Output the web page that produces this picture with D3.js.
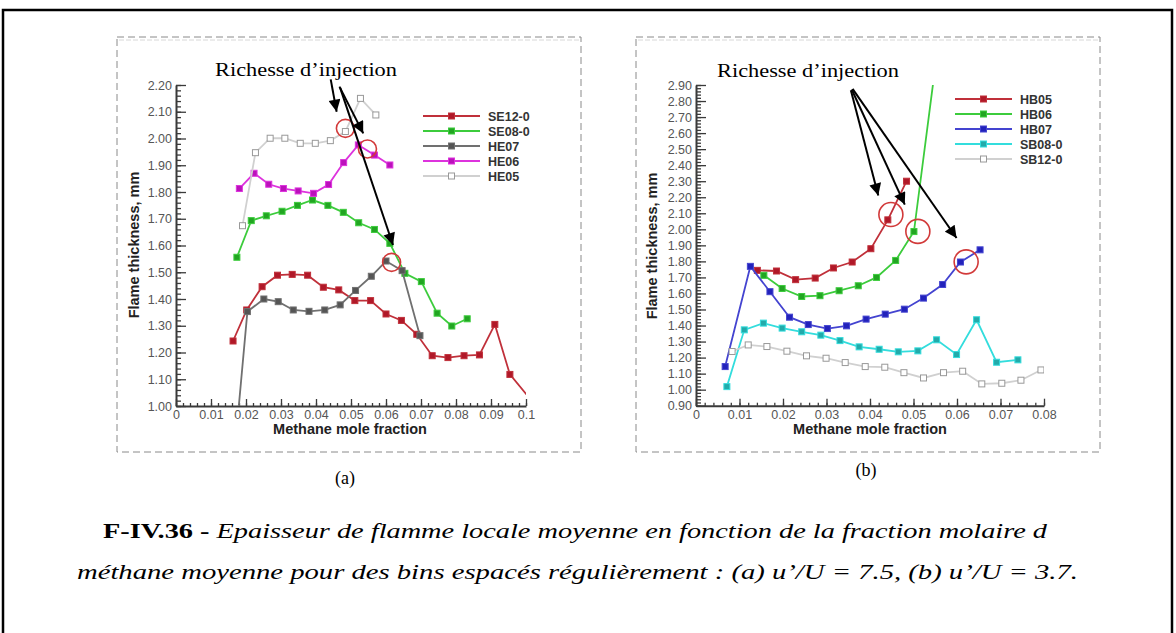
<!DOCTYPE html>
<html>
<head>
<meta charset="utf-8">
<script src="https://cdn.jsdelivr.net/npm/d3@7/dist/d3.min.js"></script>
<style>
body { margin: 0; background: #fff; }
</style>
</head>
<body>
<svg id="fig" width="1176" height="633"></svg>
<script>

// ---- data, panel (a) : u'/U = 7.5 ----
const leftNames = ["SE12-0", "SE08-0", "HE07", "HE06", "HE05"];
const se12_0 = [[0.0163,1.243],[0.0202,1.359],[0.0246,1.446],[0.0290,1.489],[0.0332,1.492],[0.0376,1.489],
    [0.0421,1.444],[0.0465,1.434],[0.0511,1.394],[0.0556,1.394],[0.0600,1.344],[0.0644,1.320],[0.0688,1.268],
    [0.0732,1.188],[0.0777,1.181],[0.0823,1.188],[0.0867,1.191],[0.0911,1.305],[0.0954,1.118],[0.1016,1.02]];
const se08_0 = [[0.0174,1.556],[0.0215,1.693],[0.0258,1.711],[0.0303,1.728],[0.0347,1.750],[0.0390,1.770],
    [0.0434,1.750],[0.0478,1.724],[0.0522,1.685],[0.0567,1.660],[0.0611,1.608],[0.0654,1.496],[0.0701,1.465],
    [0.0746,1.347],[0.0788,1.299],[0.0832,1.326]];
const he07 = [[0.0176,0.95],[0.0204,1.353],[0.0251,1.400],[0.0292,1.390],[0.0335,1.359],[0.0380,1.354],
    [0.0425,1.359],[0.0469,1.378],[0.0513,1.432],[0.0558,1.485],[0.0600,1.542],[0.0646,1.506],[0.0697,1.263]];
const he06 = [[0.0181,1.813],[0.0223,1.870],[0.0265,1.829],[0.0307,1.813],[0.0349,1.804],[0.0393,1.795],
    [0.0436,1.828],[0.0479,1.910],[0.0521,1.976],[0.0567,1.938],[0.0611,1.901]];
const he05 = [[0.0190,1.674],[0.0227,1.947],[0.0269,2.001],[0.0311,2.001],[0.0355,1.982],[0.0398,1.982],
    [0.0441,1.992],[0.0484,2.026],[0.0527,2.150],[0.0571,2.088]];
const leftXTicks = [0, 0.01, 0.02, 0.03, 0.04, 0.05, 0.06, 0.07, 0.08, 0.09, 0.1];
const leftYTicks = [1.0, 1.1, 1.2, 1.3, 1.4, 1.5, 1.6, 1.7, 1.8, 1.9, 2.0, 2.1, 2.2];
const leftCircles = [[0.0484,2.038],[0.0547,1.961],[0.0616,1.537]];
const leftArrows = [[[0.0442,2.221],[0.0459,2.100]], [[0.0467,2.194],[0.0535,2.019]], [[0.0469,2.189],[0.0620,1.602]]];

// ---- data, panel (b) : u'/U = 3.7 ----
const rightNames = ["HB05", "HB06", "HB07", "SB08-0", "SB12-0"];
const hb05 = [[0.0141,1.744],[0.0185,1.740],[0.0229,1.686],[0.0274,1.696],[0.0316,1.759],[0.0359,1.796],
    [0.0402,1.879],[0.0441,2.059],[0.0484,2.300]];
const hb06 = [[0.0156,1.713],[0.0198,1.631],[0.0243,1.581],[0.0285,1.586],[0.0329,1.617],[0.0373,1.648],
    [0.0415,1.700],[0.0459,1.806],[0.0501,1.986],[0.0546,2.93]];
const hb07 = [[0.0067,1.144],[0.0125,1.769],[0.0170,1.611],[0.0215,1.452],[0.0258,1.406],[0.0302,1.381],
    [0.0346,1.398],[0.0391,1.440],[0.0435,1.471],[0.0479,1.502],[0.0523,1.571],[0.0567,1.656],[0.0608,1.796],[0.0653,1.872]];
const sb08_0 = [[0.0071,1.019],[0.0111,1.373],[0.0155,1.415],[0.0198,1.384],[0.0243,1.361],[0.0287,1.340],
    [0.0331,1.306],[0.0375,1.267],[0.0421,1.252],[0.0465,1.236],[0.0510,1.242],[0.0553,1.311],[0.0599,1.219],
    [0.0645,1.436],[0.0691,1.171],[0.0740,1.186]];
const sb12_0 = [[0.0083,1.238],[0.0120,1.279],[0.0163,1.269],[0.0209,1.240],[0.0254,1.211],[0.0299,1.196],
    [0.0343,1.169],[0.0389,1.144],[0.0434,1.140],[0.0478,1.106],[0.0523,1.073],[0.0569,1.106],[0.0613,1.115],
    [0.0657,1.036],[0.0703,1.040],[0.0747,1.059],[0.0793,1.123]];
const rightXTicks = [0, 0.01, 0.02, 0.03, 0.04, 0.05, 0.06, 0.07, 0.08];
const rightYTicks = d3.range(9, 30).map(d => d / 10);
const rightCircles = [[0.0448,2.092],[0.0510,1.987],[0.0621,1.797]];
const rightArrows = [[[0.0356,2.867],[0.0419,2.211]], [[0.0358,2.872],[0.0480,2.154]], [[0.0360,2.876],[0.0599,1.946]]];

// styles per series: line colour, marker fill, marker stroke
const styles = {
    "SE12-0": ["#c0303a", "#b01828", "#c0303a"],
    "SE08-0": ["#3ccc3c", "#22a522", "#3ccc3c"],
    "HE07":   ["#707070", "#555555", "#707070"],
    "HE06":   ["#dd33dd", "#bb11bb", "#dd33dd"],
    "HE05":   ["#d0d0d0", "#ffffff", "#999999"],
    "HB05":   ["#c0303a", "#b01828", "#c0303a"],
    "HB06":   ["#3ccc3c", "#22a522", "#3ccc3c"],
    "HB07":   ["#4444d0", "#2222bb", "#4444d0"],
    "SB08-0": ["#33dddd", "#22aaaa", "#33dddd"],
    "SB12-0": ["#d0d0d0", "#ffffff", "#999999"]
};

const SANS = "'Liberation Sans', Arial, sans-serif";
const SERIF = "'Liberation Serif', 'Times New Roman', serif";

const svg = d3.select("#fig");

// outer frame of the page
svg.append("rect")
    .attr("x", 3).attr("y", 10).attr("width", 1169).attr("height", 700)
    .attr("fill", "none").attr("stroke", "#000").attr("stroke-width", 2.5);

// defs: arrow head
const defs = svg.append("defs");
defs.append("marker")
    .attr("id", "head")
    .attr("viewBox", "0 0 10 10")
    .attr("refX", 10).attr("refY", 5)
    .attr("markerWidth", 7).attr("markerHeight", 6)
    .attr("markerUnits", "strokeWidth")
    .attr("orient", "auto")
    .append("path").attr("d", "M0,0 L10,5 L0,10 z").attr("fill", "#000");

function drawPanel(cfg) {
    const g = svg.append("g");

    // dashed frame around the panel
    g.append("rect")
        .attr("x", cfg.box[0]).attr("y", cfg.box[1])
        .attr("width", cfg.box[2]).attr("height", cfg.box[3])
        .attr("fill", "none").attr("stroke", "#8a8a8a")
        .attr("stroke-width", 1).attr("stroke-dasharray", "7,4");
    g.append("line")
        .attr("x1", cfg.box[0] + 2).attr("x2", cfg.box[0] + cfg.box[2] - 2)
        .attr("y1", cfg.box[1] + 3).attr("y2", cfg.box[1] + 3)
        .attr("stroke", "#d8d8d8").attr("stroke-width", 1).attr("stroke-dasharray", "5,2");

    const x = d3.scaleLinear().domain(cfg.xDomain).range(cfg.xRange);
    const y = d3.scaleLinear().domain(cfg.yDomain).range(cfg.yRange);

    // clip to plot area
    defs.append("clipPath").attr("id", cfg.id + "-clip")
        .append("rect")
        .attr("x", cfg.xRange[0]).attr("y", cfg.yRange[1])
        .attr("width", cfg.xRange[1] - cfg.xRange[0])
        .attr("height", cfg.yRange[0] - cfg.yRange[1]);

    // minor ticks
    const xMinor = d3.range(cfg.xDomain[0], cfg.xDomain[1] + 1e-9, 0.002);
    const yMinor = d3.range(Math.round(cfg.yDomain[0] * 50), Math.round(cfg.yDomain[1] * 50) + 1).map(d => d / 50);

    g.append("g")
        .attr("transform", `translate(0,${cfg.yRange[0]})`)
        .call(d3.axisBottom(x).tickValues(xMinor).tickSize(-3).tickSizeOuter(0).tickFormat(""))
        .call(a => a.select(".domain").remove());
    g.append("g")
        .attr("transform", `translate(${cfg.xRange[0]},0)`)
        .call(d3.axisLeft(y).tickValues(yMinor).tickSize(-5).tickSizeOuter(0).tickFormat(""))
        .call(a => a.select(".domain").remove());

    // major ticks + labels
    const xAxis = g.append("g")
        .attr("transform", `translate(0,${cfg.yRange[0]})`)
        .call(d3.axisBottom(x).tickValues(cfg.xTicks).tickSize(-7).tickSizeOuter(0)
            .tickPadding(4).tickFormat(d3.format("~g")));
    const yAxis = g.append("g")
        .attr("transform", `translate(${cfg.xRange[0]},0)`)
        .call(d3.axisLeft(y).tickValues(cfg.yTicks).tickSize(-10).tickSizeOuter(0)
            .tickPadding(4).tickFormat(d3.format(".2f")));

    g.selectAll(".tick line").attr("stroke", "#3a3a3a").attr("stroke-width", 1.3);
    [xAxis, yAxis].forEach(a => {
        a.select(".domain").attr("stroke", "#3a3a3a").attr("stroke-width", 2);
        a.selectAll("text").attr("fill", "#555").attr("font-size", 12.5)
            .attr("font-family", SANS);
    });

    // axis titles
    g.append("text")
        .attr("x", cfg.xTitle[0]).attr("y", cfg.xTitle[1])
        .attr("text-anchor", "middle")
        .attr("font-family", SANS)
        .attr("font-weight", "bold").attr("font-size", 14.5).attr("fill", "#222")
        .text("Methane mole fraction");
    g.append("text")
        .attr("transform", `translate(${cfg.yTitle[0]},${cfg.yTitle[1]}) rotate(-90)`)
        .attr("text-anchor", "middle")
        .attr("font-family", SANS)
        .attr("font-weight", "bold").attr("font-size", 14.5).attr("fill", "#222")
        .text("Flame thickness, mm");

    // series
    const plot = g.append("g").attr("clip-path", `url(#${cfg.id}-clip)`);
    const line = d3.line().x(d => x(d[0])).y(d => y(d[1]));
    cfg.series.forEach((pts, i) => {
        const st = styles[cfg.names[i]];
        plot.append("path")
            .datum(pts)
            .attr("d", line)
            .attr("fill", "none")
            .attr("stroke", st[0])
            .attr("stroke-width", 1.8);
        plot.selectAll(null)
            .data(pts)
            .enter().append("rect")
                .attr("x", d => x(d[0]) - 3)
                .attr("y", d => y(d[1]) - 3)
                .attr("width", 6)
                .attr("height", 6)
                .attr("fill", st[1])
                .attr("stroke", st[2])
                .attr("stroke-width", 1);
    });

    // legend
    const lg = g.append("g");
    cfg.names.forEach((name, i) => {
        const st = styles[name];
        const ly = cfg.legend[1] + i * 15;
        lg.append("line")
            .attr("x1", cfg.legend[0]).attr("x2", cfg.legend[0] + 57)
            .attr("y1", ly).attr("y2", ly)
            .attr("stroke", st[0]).attr("stroke-width", 1.8);
        lg.append("rect")
            .attr("x", cfg.legend[0] + 28.5 - 3).attr("y", ly - 3)
            .attr("width", 6).attr("height", 6)
            .attr("fill", st[1]).attr("stroke", st[2]);
        lg.append("text")
            .attr("x", cfg.legend[0] + 65).attr("y", ly + 4.5)
            .attr("font-family", SANS)
            .attr("font-weight", "bold").attr("font-size", 12.5).attr("fill", "#333")
            .text(name);
    });

    // annotation: circles, arrows, label
    g.selectAll(null)
        .data(cfg.circles)
        .enter().append("circle")
            .attr("cx", d => x(d[0]))
            .attr("cy", d => y(d[1]))
            .attr("r", cfg.circleR)
            .attr("fill", "none")
            .attr("stroke", "#d23a3a")
            .attr("stroke-width", 1.6);
    g.selectAll(null)
        .data(cfg.arrows)
        .enter().append("line")
            .attr("x1", d => x(d[0][0])).attr("y1", d => y(d[0][1]))
            .attr("x2", d => x(d[1][0])).attr("y2", d => y(d[1][1]))
            .attr("stroke", "#000").attr("stroke-width", 2)
            .attr("marker-end", "url(#head)");
    g.append("text")
        .attr("x", cfg.label[0]).attr("y", cfg.label[1])
        .attr("text-anchor", "middle")
        .attr("font-family", SERIF)
        .attr("font-size", 19).attr("fill", "#000")
        .attr("textLength", 182).attr("lengthAdjust", "spacingAndGlyphs")
        .text("Richesse d\u2019injection");

    // panel caption
    g.append("text")
        .attr("x", cfg.caption[0]).attr("y", cfg.caption[1])
        .attr("text-anchor", "middle")
        .attr("font-family", SERIF)
        .attr("font-size", 18).attr("fill", "#000")
        .text(cfg.captionText);
}

drawPanel({
    id: "left",
    box: [117, 37, 464, 415],
    xDomain: [0, 0.1], xRange: [176, 526],
    yDomain: [1.0, 2.2], yRange: [406, 85],
    xTicks: leftXTicks, yTicks: leftYTicks,
    names: leftNames,
    series: [se12_0, se08_0, he07, he06, he05],
    legend: [423, 116],
    circles: leftCircles, circleR: 9,
    arrows: leftArrows,
    label: [306, 76],
    xTitle: [350, 434], yTitle: [139, 245],
    caption: [345, 484], captionText: "(a)"
});

drawPanel({
    id: "right",
    box: [636, 37, 464, 415],
    xDomain: [0, 0.08], xRange: [696, 1044],
    yDomain: [0.9, 2.9], yRange: [405.7, 85],
    xTicks: rightXTicks, yTicks: rightYTicks,
    names: rightNames,
    series: [hb05, hb06, hb07, sb08_0, sb12_0],
    legend: [955, 99],
    circles: rightCircles, circleR: 12,
    arrows: rightArrows,
    label: [808, 77],
    xTitle: [870, 434], yTitle: [657, 246],
    caption: [866, 476], captionText: "(b)"
});

// figure caption
const cap1 = svg.append("text")
    .attr("x", 103).attr("y", 538)
    .attr("font-family", SERIF)
    .attr("font-size", 20).attr("fill", "#000")
    .attr("textLength", 944).attr("lengthAdjust", "spacingAndGlyphs");
cap1.append("tspan").attr("font-weight", "bold").text("F-IV.36 - ");
cap1.append("tspan").attr("font-style", "italic")
    .text("Epaisseur de flamme locale moyenne en fonction de la fraction molaire d");

svg.append("text")
    .attr("x", 77).attr("y", 579)
    .attr("font-family", SERIF)
    .attr("font-size", 20).attr("font-style", "italic").attr("fill", "#000")
    .attr("textLength", 1001).attr("lengthAdjust", "spacingAndGlyphs")
    .text("m\u00e9thane moyenne pour des bins espac\u00e9s r\u00e9guli\u00e8rement : (a) u\u2019/U = 7.5, (b) u\u2019/U = 3.7.");

</script>
</body>
</html>
